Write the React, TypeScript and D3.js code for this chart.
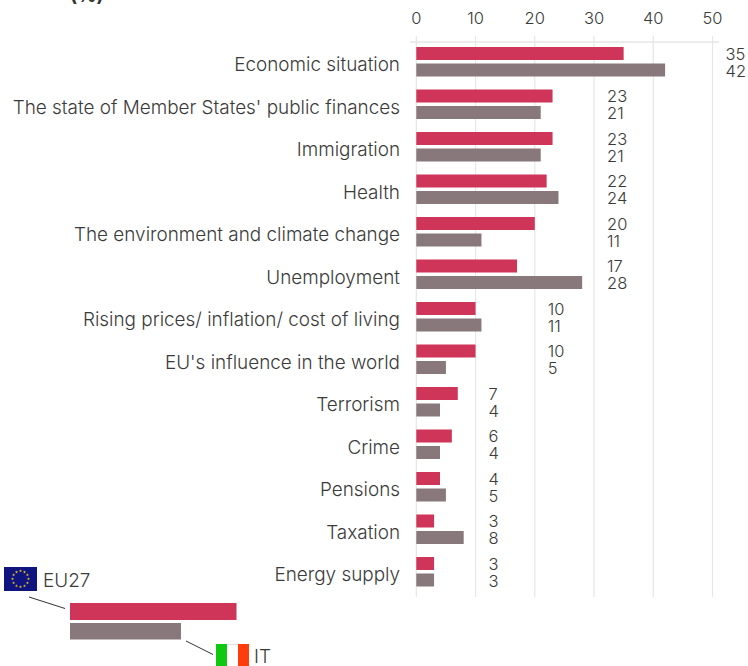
import * as d3 from 'd3';

const WIDTH = 748;
const HEIGHT = 666;
const RED = '#cf3459';
const GREY = '#89787b';
const FONT = 'Inter, sans-serif';
const TEXT = '#3a3a3a';

const categories = [
  'Economic situation',
  "The state of Member States' public finances",
  'Immigration',
  'Health',
  'The environment and climate change',
  'Unemployment',
  'Rising prices/ inflation/ cost of living',
  "EU's influence in the world",
  'Terrorism',
  'Crime',
  'Pensions',
  'Taxation',
  'Energy supply',
];
const eu27 = [35, 23, 23, 22, 20, 17, 10, 10, 7, 6, 4, 3, 3];
const italy = [42, 21, 21, 24, 11, 28, 11, 5, 4, 4, 5, 8, 3];
const xTicks = [0, 10, 20, 30, 40, 50];
const itFlag = ['#0fc80f', '#ffffff', '#ff3c0a'];

const x = d3.scaleLinear().domain([0, 50]).range([416.3, 712.5]);
const y = d3.scaleBand().domain(categories).range([40.5, 593]).paddingInner(0).paddingOuter(0);
const starAngles = d3.range(12).map((i) => (i * Math.PI) / 6);

// the value labels sit in columns, one per ten of the larger value
const labelX = (i: number) => x(Math.floor(Math.max(eu27[i], italy[i]) / 10) * 10 + 12.2);

const App = () => {
  const star = d3.symbol(d3.symbolStar, 3)() as string;
  return (
    <svg
      width={WIDTH}
      height={HEIGHT}
      style={{ position: 'absolute', left: 0, top: 0, background: '#fff' }}
      fontFamily={FONT}
      fontWeight={300}
      fill={TEXT}
    >
      <text x={70} y={2} fontSize={19} fontWeight={700} fill="#333">(%)</text>

      {/* axis and grid */}
      <line x1={410} x2={719} y1={42} y2={42} stroke="#e6e6e6" strokeWidth={1.5} />
      {xTicks.map((t) => (
        <g key={t}>
          <line x1={x(t)} x2={x(t)} y1={36} y2={597} stroke="#e6e6e6" strokeWidth={1.2} />
          <text x={x(t)} y={24} fontSize={16.5} textAnchor="middle">{t}</text>
        </g>
      ))}

      {categories.map((c, i) => {
        const top = y(c) as number;
        return (
          <g key={c}>
            <text x={400} y={top + 30.5} fontSize={18.9} textAnchor="end">{c}</text>
            <rect x={x(0)} y={top + 6.5} width={x(eu27[i]) - x(0)} height={13} fill={RED} />
            <rect x={x(0)} y={top + 23} width={x(italy[i]) - x(0)} height={13} fill={GREY} />
            <text x={labelX(i)} y={top + 19} fontSize={16.5}>{eu27[i]}</text>
            <text x={labelX(i)} y={top + 36} fontSize={16.5}>{italy[i]}</text>
          </g>
        );
      })}

      {/* legend */}
      <rect x={4} y={567} width={33} height={24} fill="#10147e" />
      {starAngles.map((a, i) => (
        <path
          key={i}
          d={star}
          fill="#f0d020"
          transform={`translate(${20.5 + 8 * Math.sin(a)},${579 - 8 * Math.cos(a)})`}
        />
      ))}
      <text x={43} y={587} fontSize={18.9}>EU27</text>
      <line x1={29} y1={597} x2={65} y2={608.5} stroke="#333" strokeWidth={1} />
      <rect x={70} y={603} width={166.5} height={17} fill={RED} />
      <rect x={70} y={623} width={111} height={16.5} fill={GREY} />
      <line x1={186} y1={641} x2={213} y2={654.5} stroke="#333" strokeWidth={1} />
      {itFlag.map((col, i) => (
        <rect key={col} x={216 + i * 11} y={644} width={11} height={22} fill={col} />
      ))}
      <line x1={227} x2={238} y1={644.5} y2={644.5} stroke="#e0e0e0" />
      <text x={254} y={663} fontSize={18.9}>IT</text>
    </svg>
  );
};

export default App;
